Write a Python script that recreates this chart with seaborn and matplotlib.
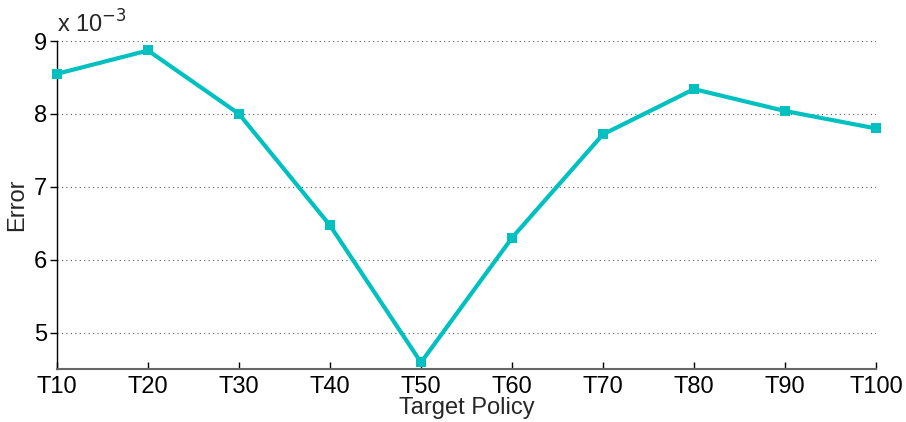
import matplotlib
matplotlib.use("Agg")
import matplotlib.pyplot as plt
import seaborn as sns
import pandas as pd

policies = ["T10", "T20", "T30", "T40", "T50", "T60", "T70", "T80", "T90", "T100"]
# Error values, in units of 1e-3
error_e3 = [8.55, 8.87, 8.00, 6.47, 4.59, 6.30, 7.72, 8.34, 8.04, 7.80]

df = pd.DataFrame({"policy": policies, "error": error_e3, "pos": range(len(policies))})

sns.set_theme(style="white")
plt.rcParams["font.family"] = ["Liberation Sans", "DejaVu Sans"]

fig = plt.figure(figsize=(9.06, 4.22), dpi=100)
ax = fig.add_axes([0.0629, 0.1256, 0.9040, 0.7772])

sns.lineplot(data=df, x="pos", y="error", ax=ax, color="#00C0C0",
             linewidth=3.0, marker="s", markersize=7.5, markeredgewidth=0,
             clip_on=False, zorder=3)

ax.set_xlim(0, len(policies) - 1)
ax.set_ylim(4.5, 9.0)
ax.set_xticks(range(len(policies)))
ax.set_xticklabels(policies)
ax.set_yticks([5, 6, 7, 8, 9])
ax.set_yticklabels(["5", "6", "7", "8", "9"])

ax.yaxis.grid(True, linestyle=(0, (1, 3)), color="#555555", linewidth=0.8)
ax.xaxis.grid(False)

for side in ["top", "right"]:
    ax.spines[side].set_visible(False)
ax.spines["left"].set_color("black")
ax.spines["bottom"].set_color("#666666")
ax.spines["left"].set_linewidth(1.0)
ax.spines["bottom"].set_linewidth(1.5)

ax.tick_params(axis="y", direction="out", length=5, width=1, colors="black",
               labelsize=17, left=True, pad=2)
ax.tick_params(axis="x", direction="in", length=5, width=1, colors="black",
               labelsize=17, bottom=True, pad=5)

ax.set_xlabel("Target Policy", fontsize=17, labelpad=-1)
ax.set_ylabel("Error", fontsize=17, labelpad=4)

ax.text(0.0, 1.01, r"x 10$^{-3}$", transform=ax.transAxes, fontsize=17,
        ha="left", va="bottom")

fig.savefig("out.png", dpi=100)
